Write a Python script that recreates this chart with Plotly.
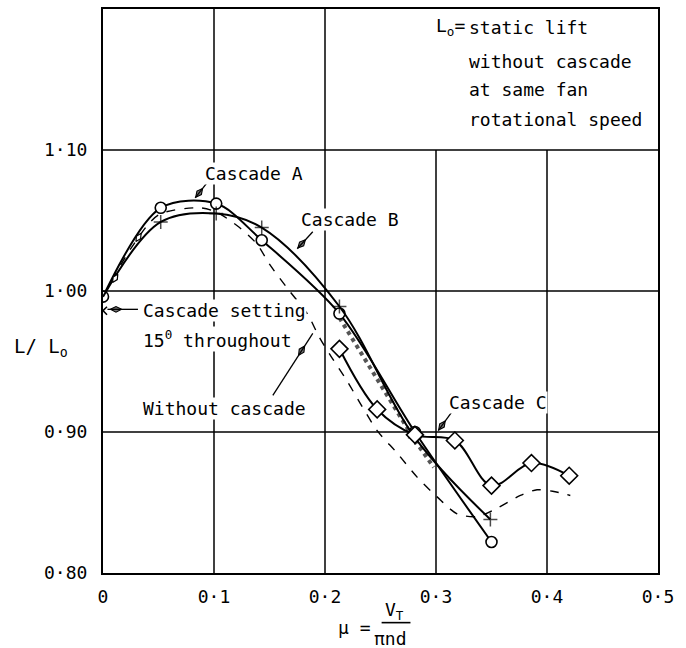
import math
import plotly.graph_objects as go

# Fan lift ratio L/Lo against advance ratio mu
mu_a = [0.0, 0.052, 0.102, 0.143, 0.213, 0.281, 0.350]
lift_a = [0.996, 1.059, 1.062, 1.036, 0.984, 0.900, 0.822]

mu_b = [0.0, 0.052, 0.102, 0.143, 0.213, 0.281, 0.349]
lift_b = [0.996, 1.049, 1.055, 1.045, 0.989, 0.896, 0.838]

mu_c = [0.213, 0.247, 0.281, 0.317, 0.350, 0.386, 0.420]
lift_c = [0.959, 0.916, 0.898, 0.894, 0.862, 0.878, 0.869]

mu_none = [0.0, 0.025, 0.05, 0.087, 0.102, 0.123, 0.139, 0.150, 0.168, 0.184,
           0.195, 0.206, 0.220, 0.232, 0.247, 0.265, 0.283, 0.301, 0.319, 0.337,
           0.355, 0.376, 0.391, 0.405, 0.421]
lift_none = [0.996, 1.030, 1.054, 1.059, 1.056, 1.045, 1.033, 1.019, 1.000, 0.984,
             0.967, 0.953, 0.936, 0.920, 0.901, 0.885, 0.868, 0.854, 0.842, 0.840,
             0.846, 0.855, 0.859, 0.858, 0.855]

# shaded strip where cascade curves overlap
mu_strip = [0.213, 0.281, 0.298]
lift_strip = [0.981, 0.894, 0.875]

# cascade setting 15 deg throughout, static point
mu_set = [0.0]
lift_set = [0.986]

# small direction marks on the rising branch
mu_marks = [0.011, 0.032]
lift_marks = [1.009, 1.038]

x_ticks = [0, 0.1, 0.2, 0.3, 0.4, 0.5]
x_ticktext = ["0", "0·1", "0·2", "0·3", "0·4", "0·5"]
y_ticks = [0.80, 0.90, 1.00, 1.10]
y_ticktext = ["0·80", "0·90", "1·00", "1·10"]

X_RANGE = [0, 0.5]
Y_RANGE = [0.80, 1.20]
NOTE_LEFT = 0.25   # gridlines stop below the note in the upper right

W, H = 686, 648
M = dict(l=103, r=28, t=7, b=75)
PX_X = (W - M["l"] - M["r"]) / (X_RANGE[1] - X_RANGE[0])
PX_Y = (H - M["t"] - M["b"]) / (Y_RANGE[1] - Y_RANGE[0])

FONT = "DejaVu Sans Mono"
INK = "black"

fig = go.Figure()

fig.add_trace(go.Scatter(
    x=mu_none, y=lift_none, mode="lines",
    line=dict(color=INK, width=1.4, dash="dash", shape="spline", smoothing=0.8),
    name="Without cascade"))

fig.add_trace(go.Scatter(
    x=mu_strip, y=lift_strip, mode="lines",
    line=dict(color="#555", width=4, dash="dot"),
    name="overlap"))

fig.add_trace(go.Scatter(
    x=mu_a, y=lift_a, mode="lines+markers",
    line=dict(color=INK, width=2, shape="spline", smoothing=0.9),
    marker=dict(symbol="circle", size=11, color="white",
                line=dict(color=INK, width=1.6)),
    name="Cascade A"))

fig.add_trace(go.Scatter(
    x=mu_b, y=lift_b, mode="lines+markers",
    line=dict(color=INK, width=2, shape="spline", smoothing=1.0),
    marker=dict(symbol="cross-thin", size=[0] + [10] * (len(mu_b) - 1),
                color=INK, line=dict(color=INK, width=1.5)),
    name="Cascade B"))

fig.add_trace(go.Scatter(
    x=mu_c, y=lift_c, mode="lines+markers",
    line=dict(color=INK, width=2, shape="spline", smoothing=1.0),
    marker=dict(symbol="diamond", size=13, color="white",
                line=dict(color=INK, width=1.6)),
    name="Cascade C"))

fig.add_trace(go.Scatter(
    x=mu_set, y=lift_set, mode="markers",
    marker=dict(symbol="x-thin", size=8, color=INK,
                line=dict(color=INK, width=1.6)),
    name="Cascade setting 15° throughout"))

fig.add_trace(go.Scatter(
    x=mu_marks, y=lift_marks, mode="markers",
    marker=dict(symbol="diamond-tall", size=7, angle=32, color="white",
                line=dict(color=INK, width=1.2)),
    name="marks"))

# grid drawn as shapes so the note area stays clear
shapes = []
for yv in y_ticks[1:]:
    shapes.append(dict(type="line", xref="x", yref="y", x0=X_RANGE[0], x1=X_RANGE[1],
                       y0=yv, y1=yv, line=dict(color=INK, width=1.5), layer="below"))
for xv in x_ticks[1:-1]:
    top = Y_RANGE[1] if xv < NOTE_LEFT else y_ticks[-1]
    shapes.append(dict(type="line", xref="x", yref="y", x0=xv, x1=xv,
                       y0=Y_RANGE[0], y1=top, line=dict(color=INK, width=1.5), layer="below"))

# fraction bar of the x-axis title
shapes.append(dict(type="line", xref="x", yref="paper", x0=0.251, x1=0.277,
                   y0=-0.088, y1=-0.088, line=dict(color=INK, width=1.6)))

# label leaders: a thin line with a slim blob near the point it marks
leaders = [
    ((0.096, 1.079), (0.083, 1.066)),   # Cascade A
    ((0.189, 1.042), (0.175, 1.030)),   # Cascade B
    ((0.0315, 0.987), (0.004, 0.987)),  # Cascade setting
    ((0.153, 0.926), (0.189, 0.970)),   # Without cascade
    ((0.314, 0.914), (0.302, 0.901)),   # Cascade C
]
blob_x, blob_y, blob_angle = [], [], []
for (xt, yt), (xh, yh) in leaders:
    shapes.append(dict(type="line", xref="x", yref="y", x0=xt, y0=yt, x1=xh, y1=yh,
                       line=dict(color=INK, width=1.3)))
    blob_x.append(xt + 0.72 * (xh - xt))
    blob_y.append(yt + 0.72 * (yh - yt))
    dx = (xh - xt) * PX_X
    dy = (yh - yt) * PX_Y
    blob_angle.append(math.degrees(math.atan2(dx, dy)))

fig.add_trace(go.Scatter(
    x=blob_x, y=blob_y, mode="markers", hoverinfo="skip",
    marker=dict(symbol="diamond-tall", size=8, angle=blob_angle, color="#777",
                line=dict(color=INK, width=1.1)),
    name="leaders"))

lab = dict(family=FONT, size=18, color=INK)


def text(x, y, s, xanchor="center", bg="white", xref="x", yref="y", size=18):
    a = dict(x=x, y=y, xref=xref, yref=yref, text=s, showarrow=False,
             xanchor=xanchor, yanchor="middle", borderpad=0,
             font=dict(family=FONT, size=size, color=INK))
    if bg:
        a["bgcolor"] = bg
    return a


annotations = [
    text(0.136, 1.083, "Cascade A"),
    text(0.2225, 1.051, "Cascade B"),
    text(0.035, 0.986, "Cascade setting", xanchor="left"),
    text(0.035, 0.966, "15<sup>0</sup> throughout", xanchor="left"),
    text(0.035, 0.9166, "Without cascade", xanchor="left"),
    text(0.356, 0.921, "Cascade C"),
    text(0.327, 1.187, "L<sub>o</sub>=", xanchor="right"),
    text(0.329, 1.187, "static lift", xanchor="left"),
    text(0.329, 1.1625, "without cascade", xanchor="left"),
    text(0.329, 1.1428, "at same fan", xanchor="left"),
    text(0.329, 1.1216, "rotational speed", xanchor="left"),
    # axis titles
    text(-0.112, 0.96, "L/ L<sub>o</sub>", xref="paper", bg=None, size=19),
    text(0.227, -0.097, "μ =", yref="paper", bg=None),
    text(0.263, -0.067, "V<sub>T</sub>", yref="paper", bg=None),
    text(0.2586, -0.117, "πnd", yref="paper", bg=None),
]

fig.update_layout(
    width=W, height=H,
    margin=M,
    paper_bgcolor="white", plot_bgcolor="white",
    showlegend=False,
    shapes=shapes,
    annotations=annotations,
    xaxis=dict(range=X_RANGE, tickvals=x_ticks, ticktext=x_ticktext,
               showgrid=False, zeroline=False, showline=True, mirror=True,
               linecolor=INK, linewidth=2, ticks="", tickfont=lab,
               ticklabelstandoff=6),
    yaxis=dict(range=Y_RANGE, tickvals=y_ticks, ticktext=y_ticktext,
               showgrid=False, zeroline=False, showline=True, mirror=True,
               linecolor=INK, linewidth=2, ticks="", tickfont=lab,
               ticklabelstandoff=10),
)

fig.write_html("out.html")
